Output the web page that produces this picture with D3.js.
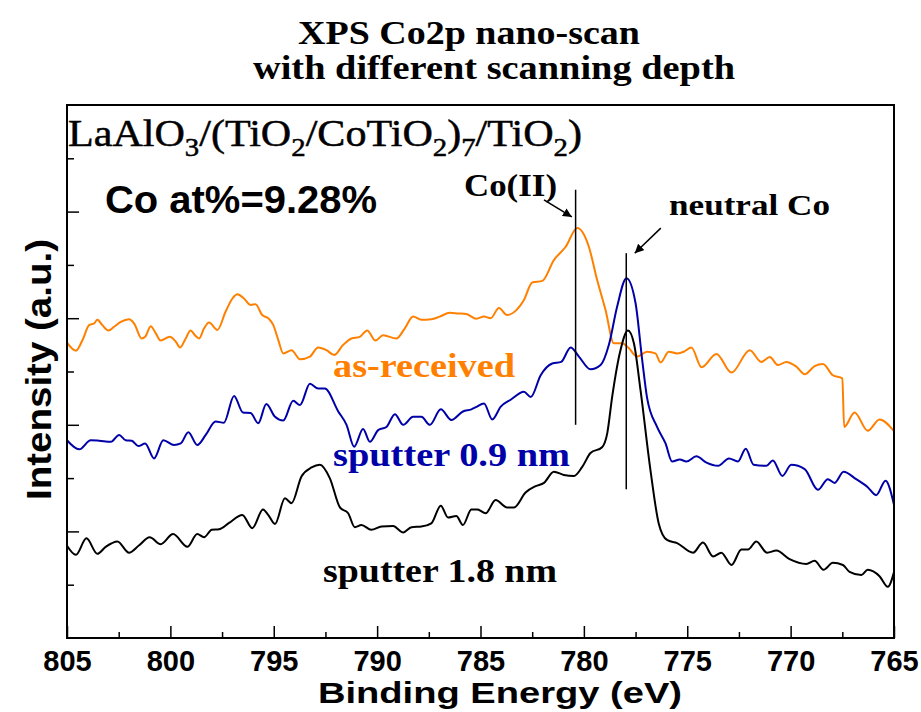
<!DOCTYPE html>
<html>
<head>
<meta charset="utf-8">
<script src="https://cdn.jsdelivr.net/npm/d3@7"></script>
<style>
  html, body { margin: 0; padding: 0; background: #fff; }
  svg { display: block; }
</style>
</head>
<body>
<div id="chart"></div>
<script>
// Co2p spectra: [binding energy (eV), intensity (a.u.)]
const asReceived = [
  [805.0, 5.54], [804.57, 5.39], [804.25, 5.59], [803.93, 5.87], [803.69, 5.90], [803.53, 5.97],
  [803.29, 5.87], [803.0, 5.77], [802.72, 5.84], [802.40, 5.93], [802.0, 5.98], [801.75, 5.90],
  [801.39, 5.62], [801.22, 5.65], [800.95, 5.85], [800.71, 5.72], [800.47, 5.58], [800.03, 5.65],
  [799.74, 5.56], [799.53, 5.45], [799.26, 5.62], [799.02, 5.77], [798.81, 5.68], [798.61, 5.62],
  [798.37, 5.81], [798.13, 5.92], [797.73, 5.78], [797.33, 6.12], [797.0, 6.37], [796.76, 6.45],
  [796.44, 6.37], [796.12, 6.25], [795.88, 6.26], [795.56, 6.06], [795.27, 6.00], [795.02, 5.87],
  [794.78, 5.59], [794.54, 5.34], [794.14, 5.40], [793.73, 5.23], [793.25, 5.28], [792.85, 5.45],
  [792.45, 5.40], [792.08, 5.31], [791.64, 5.50], [791.24, 5.62], [790.84, 5.65], [790.48, 5.77],
  [790.08, 5.58], [789.71, 5.68], [789.07, 5.62], [788.66, 5.81], [788.26, 6.03], [787.86, 5.97],
  [787.38, 5.98], [786.97, 6.03], [786.49, 6.10], [786.09, 6.09], [785.69, 6.08], [785.20, 5.99],
  [784.83, 6.03], [784.51, 6.00], [784.11, 6.19], [783.71, 6.06], [783.22, 6.17], [782.90, 6.34],
  [782.50, 6.67], [782.01, 6.70], [781.45, 7.09], [780.88, 7.34], [780.32, 7.69], [779.76, 7.34],
  [779.36, 6.72], [778.95, 6.15], [778.55, 5.53], [778.15, 5.53], [777.83, 5.44], [777.43, 5.28],
  [776.94, 5.37], [776.54, 5.34], [776.29, 5.17], [775.89, 5.37], [775.49, 5.34], [775.17, 5.37],
  [774.80, 5.45], [774.31, 5.08], [773.59, 5.33], [772.86, 4.98], [771.98, 5.40], [771.42, 5.18],
  [771.01, 5.27], [770.61, 5.12], [770.21, 5.18], [769.72, 5.09], [769.32, 4.95], [768.84, 5.10],
  [768.44, 5.14], [767.96, 4.93], [767.50, 4.87], [767.41, 3.96], [766.91, 4.23], [766.27, 3.89],
  [765.70, 4.10], [765.0, 3.88]
];

const sputter09 = [
  [805.0, 3.71], [804.41, 3.54], [803.85, 3.71], [803.44, 3.70], [802.88, 3.68], [802.48, 3.81],
  [802.16, 3.71], [801.87, 3.70], [801.55, 3.60], [801.22, 3.65], [800.79, 3.37], [800.34, 3.71],
  [799.82, 3.62], [799.50, 3.65], [799.13, 3.86], [798.70, 3.62], [798.29, 3.81], [797.81, 4.06],
  [797.41, 4.04], [796.92, 4.54], [796.49, 4.23], [796.12, 4.22], [795.75, 4.03], [795.36, 4.39],
  [794.94, 4.15], [794.54, 4.08], [794.06, 4.45], [793.73, 4.37], [793.25, 4.77], [792.85, 4.68],
  [792.53, 4.68], [791.88, 4.25], [791.48, 4.00], [791.11, 3.59], [790.68, 3.92], [790.35, 3.68],
  [789.95, 3.90], [789.55, 3.96], [789.14, 4.20], [788.74, 4.00], [788.26, 4.15], [787.86, 4.15],
  [787.45, 4.00], [786.92, 4.29], [786.41, 4.09], [785.85, 4.25], [785.44, 4.29], [785.22, 4.33],
  [784.83, 4.40], [784.43, 4.10], [784.02, 4.34], [783.54, 4.47], [782.90, 4.62], [782.57, 4.52],
  [782.09, 4.93], [781.53, 5.15], [781.10, 5.18], [780.64, 5.45], [780.24, 5.28], [779.68, 5.04],
  [779.19, 5.12], [778.79, 5.50], [778.39, 6.22], [777.94, 6.75], [777.50, 6.28], [777.18, 5.22],
  [776.94, 4.50], [776.46, 3.96], [776.05, 3.65], [775.73, 3.31], [775.36, 3.35], [775.04, 3.31],
  [774.56, 3.41], [774.07, 3.29], [773.51, 3.23], [772.98, 3.37], [772.55, 3.31], [772.17, 3.55],
  [771.79, 3.25], [771.17, 3.23], [770.86, 3.33], [770.40, 3.04], [769.97, 3.25], [769.32, 3.17],
  [768.68, 2.78], [768.20, 2.98], [767.87, 2.91], [767.44, 3.12], [766.83, 2.98], [766.27, 2.83],
  [765.86, 2.68], [765.41, 2.95], [765.0, 2.50]
];

const sputter18 = [
  [805.0, 1.73], [804.57, 1.56], [804.06, 1.87], [803.53, 1.58], [803.13, 1.71], [802.56, 1.81],
  [802.0, 1.60], [801.51, 1.74], [801.0, 1.89], [800.47, 1.76], [799.87, 1.95], [799.18, 1.71],
  [798.70, 1.95], [798.37, 1.89], [798.0, 2.03], [797.65, 2.04], [797.16, 2.16], [796.52, 2.31],
  [796.04, 2.06], [795.52, 2.41], [795.27, 2.31], [794.94, 2.14], [794.46, 2.62], [794.14, 2.53],
  [793.66, 3.03], [793.17, 3.20], [792.77, 3.25], [792.29, 3.00], [791.80, 2.45], [791.40, 2.34],
  [791.08, 2.08], [790.76, 2.12], [790.28, 2.03], [789.79, 2.09], [789.23, 2.10], [788.74, 1.98],
  [788.34, 2.08], [787.86, 2.09], [787.38, 2.15], [786.92, 2.48], [786.57, 2.26], [786.17, 2.29],
  [785.85, 2.12], [785.44, 2.41], [785.15, 2.41], [784.75, 2.34], [784.27, 2.59], [783.71, 2.45],
  [783.38, 2.45], [782.82, 2.73], [782.33, 2.85], [781.93, 2.91], [781.45, 3.12], [780.97, 3.06],
  [780.48, 3.04], [780.08, 3.21], [779.68, 3.47], [779.12, 3.58], [778.87, 3.84], [778.63, 4.53],
  [778.23, 5.40], [777.87, 5.77], [777.58, 5.53], [777.26, 4.65], [776.78, 3.15], [776.38, 2.15],
  [775.98, 1.84], [775.49, 1.78], [774.72, 1.60], [774.24, 1.79], [773.75, 1.53], [773.35, 1.60],
  [772.86, 1.37], [772.38, 1.66], [772.06, 1.66], [771.66, 1.81], [771.14, 1.60], [770.69, 1.64],
  [770.05, 1.48], [769.24, 1.39], [768.84, 1.45], [768.41, 1.28], [767.96, 1.41], [767.47, 1.37],
  [767.15, 1.24], [766.58, 1.18], [766.27, 1.28], [765.70, 1.16], [765.30, 0.96], [765.0, 1.24]
];

const seriesNames = ['as-received', 'sputter 0.9 nm', 'sputter 1.8 nm'];
const seriesColors = ['#ff8000', '#0000a8', '#000000'];

const xMajorTicks = [805, 800, 795, 790, 785, 780, 775, 770, 765];
const xMinorTicks = [802.5, 797.5, 792.5, 787.5, 782.5, 777.5, 772.5, 767.5];
const yMajorTicks = [2, 4, 6, 8];
const yMinorTicks = [1, 3, 5, 7, 9];

// peak markers: [energy, bottom, top]
const peakLines = [[780.4, 4.0, 8.41], [777.95, 2.79, 7.22]];
// arrows: [fromE, fromI, toE, toI]
const peakArrows = [[781.93, 8.22, 780.58, 7.90], [776.28, 7.69, 777.54, 7.22]];

const width = 921, height = 712;
const margin = { top: 105, right: 27, bottom: 74, left: 67 };

const svg = d3.select('#chart').append('svg')
  .attr('width', width)
  .attr('height', height);

const x = d3.scaleLinear().domain([805, 765]).range([margin.left, width - margin.right]);
const y = d3.scaleLinear().domain([0, 10]).range([height - margin.bottom, margin.top]);

const serif = '"Times New Roman", "Liberation Serif", serif';
const sans = 'Arial, "Liberation Sans", sans-serif';

// stretch text to a measured width
function fit(sel, w) {
  sel.attr('textLength', w).attr('lengthAdjust', 'spacingAndGlyphs');
  return sel;
}

// titles
fit(svg.append('text').attr('x', 298).attr('y', 44)
  .attr('font-family', serif).attr('font-weight', 'bold').attr('font-size', 34)
  .text('XPS Co2p nano-scan'), 342);
fit(svg.append('text').attr('x', 253).attr('y', 79)
  .attr('font-family', serif).attr('font-weight', 'bold').attr('font-size', 34)
  .text('with different scanning depth'), 482);

// curves
const line = d3.line()
  .x(d => x(d[0]))
  .y(d => y(d[1]))
  .curve(d3.curveMonotoneX);

const plot = svg.append('g');
[asReceived, sputter09, sputter18].forEach((data, i) => {
  plot.append('path')
    .datum(data.slice().sort((a, b) => a[0] - b[0]))
    .attr('fill', 'none')
    .attr('stroke', seriesColors[i])
    .attr('stroke-width', 2)
    .attr('stroke-linejoin', 'round')
    .attr('d', line);
});

// peak markers
plot.selectAll('.peak')
  .data(peakLines)
  .enter().append('line')
  .attr('class', 'peak')
  .attr('x1', d => x(d[0])).attr('x2', d => x(d[0]))
  .attr('y1', d => y(d[1])).attr('y2', d => y(d[2]))
  .attr('stroke', '#000').attr('stroke-width', 1.5);

svg.append('defs').append('marker')
  .attr('id', 'arrow')
  .attr('viewBox', '0 0 10 10')
  .attr('refX', 10).attr('refY', 5)
  .attr('markerWidth', 9).attr('markerHeight', 9)
  .attr('markerUnits', 'userSpaceOnUse')
  .attr('orient', 'auto')
  .append('path').attr('d', 'M0,0 L10,5 L0,10 Z').attr('fill', '#000');

plot.selectAll('.arrow')
  .data(peakArrows)
  .enter().append('line')
  .attr('class', 'arrow')
  .attr('x1', d => x(d[0])).attr('y1', d => y(d[1]))
  .attr('x2', d => x(d[2])).attr('y2', d => y(d[3]))
  .attr('stroke', '#000').attr('stroke-width', 1.5)
  .attr('marker-end', 'url(#arrow)');

// axes
const bottom = height - margin.bottom;
svg.append('g')
  .attr('transform', `translate(0,${bottom})`)
  .call(d3.axisBottom(x).tickValues(xMajorTicks).tickSizeInner(-12).tickSizeOuter(0).tickPadding(12))
  .call(g => g.select('.domain').remove())
  .call(g => g.selectAll('line').attr('stroke-width', 1.5))
  .call(g => g.selectAll('text')
    .attr('font-family', sans).attr('font-weight', 'bold').attr('font-size', 29).attr('fill', '#000'));

svg.append('g')
  .attr('transform', `translate(0,${bottom})`)
  .call(d3.axisBottom(x).tickValues(xMinorTicks).tickSizeInner(-6).tickSizeOuter(0).tickFormat(''))
  .call(g => g.select('.domain').remove())
  .call(g => g.selectAll('line').attr('stroke-width', 1.5));

svg.append('g')
  .attr('transform', `translate(${margin.left},0)`)
  .call(d3.axisLeft(y).tickValues(yMajorTicks).tickSizeInner(-12).tickSizeOuter(0).tickFormat(''))
  .call(g => g.select('.domain').remove())
  .call(g => g.selectAll('line').attr('stroke-width', 1.5));

svg.append('g')
  .attr('transform', `translate(${margin.left},0)`)
  .call(d3.axisLeft(y).tickValues(yMinorTicks).tickSizeInner(-7).tickSizeOuter(0).tickFormat(''))
  .call(g => g.select('.domain').remove())
  .call(g => g.selectAll('line').attr('stroke-width', 1.5));

// frame
svg.append('rect')
  .attr('x', margin.left).attr('y', margin.top)
  .attr('width', width - margin.left - margin.right)
  .attr('height', height - margin.top - margin.bottom)
  .attr('fill', 'none').attr('stroke', '#000').attr('stroke-width', 2);

// axis titles
fit(svg.append('text').attr('x', 318).attr('y', 703)
  .attr('font-family', sans).attr('font-weight', 'bold').attr('font-size', 30)
  .text('Binding Energy (eV)'), 364);
fit(svg.append('text')
  .attr('transform', 'translate(51,500) rotate(-90)')
  .attr('font-family', sans).attr('font-weight', 'bold').attr('font-size', 35)
  .text('Intensity (a.u.)'), 261);

// sample formula with subscripts
const formula = [['LaAlO', false], ['3', true], ['/(TiO', false], ['2', true], ['/CoTiO', false],
  ['2', true], [')', false], ['7', true], ['/TiO', false], ['2', true], [')', false]];
const ft = svg.append('text').attr('x', 68).attr('y', 146)
  .attr('font-family', serif).attr('font-size', 38).attr('stroke', '#000').attr('stroke-width', 0.5);
formula.forEach(([s, sub], i) => {
  const prev = i > 0 ? formula[i - 1][1] : false;
  ft.append('tspan')
    .attr('font-size', sub ? 26 : 38)
    .attr('dy', sub ? 10 : (prev ? -10 : 0))
    .text(s);
});
fit(ft, 514);

fit(svg.append('text').attr('x', 105).attr('y', 213)
  .attr('font-family', sans).attr('font-weight', 'bold').attr('font-size', 39)
  .text('Co at%=9.28%'), 272);

// peak labels
fit(svg.append('text').attr('x', 464).attr('y', 196)
  .attr('font-family', serif).attr('font-weight', 'bold').attr('font-size', 31)
  .text('Co(II)'), 93);
fit(svg.append('text').attr('x', 669).attr('y', 215)
  .attr('font-family', serif).attr('font-weight', 'bold').attr('font-size', 29)
  .text('neutral Co'), 161);

// series labels
const labelPos = [[333, 377, 182], [333, 466, 237], [323, 582, 234]];
seriesNames.forEach((name, i) => {
  fit(svg.append('text').attr('x', labelPos[i][0]).attr('y', labelPos[i][1])
    .attr('font-family', serif).attr('font-weight', 'bold').attr('font-size', 33)
    .attr('fill', seriesColors[i])
    .text(name), labelPos[i][2]);
});
</script>
</body>
</html>
